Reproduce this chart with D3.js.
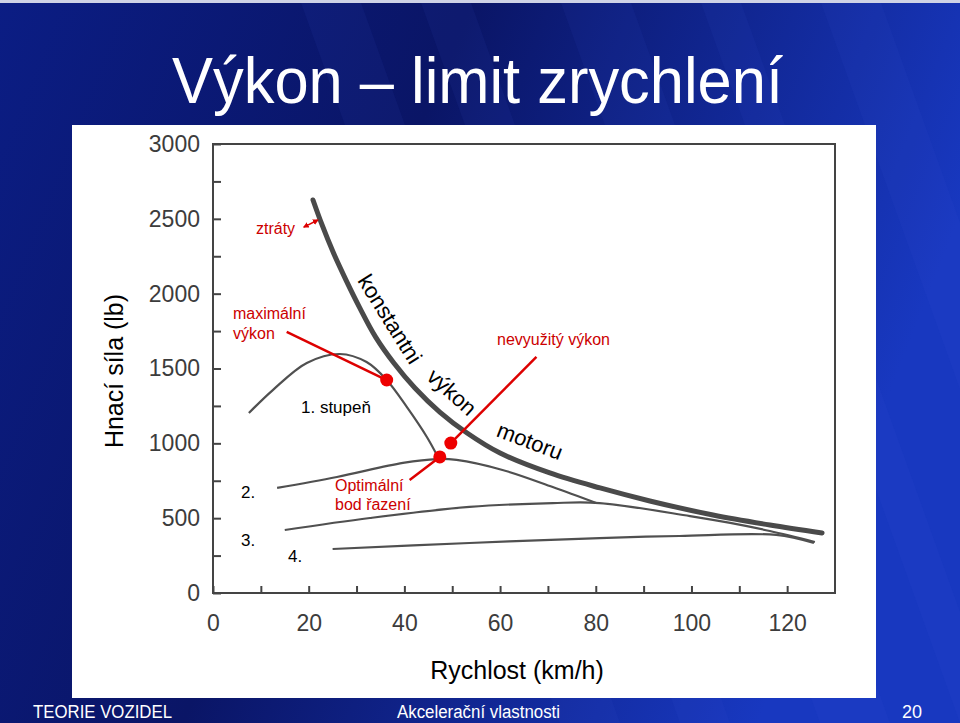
<!DOCTYPE html>
<html>
<head>
<meta charset="utf-8">
<style>
  body { margin: 0; background: #0a1670; }
  svg { display: block; font-family: "Liberation Sans", Arial, sans-serif; }
  .frame { fill: none; stroke: #444; stroke-width: 2; }
  .axis path { display: none; }
  .axis line { stroke: #444; stroke-width: 2; }
  .axis text { fill: #3c3c3c; font-size: 23px; font-family: "Liberation Sans", Arial, sans-serif; }
  .power { fill: none; stroke: #4a4a4a; stroke-width: 5; stroke-linecap: round; }
  .gear { fill: none; stroke: #505050; stroke-width: 2.2; }
  .note { fill: #cc0000; font-size: 16px; }
  .lab { fill: #000; font-size: 17px; }
  .curvelab { fill: #000; font-size: 22px; }
</style>
</head>
<body>
<div id="slide"></div>
<script src="https://cdn.jsdelivr.net/npm/d3@7"></script>
<script>

//////////////////// data (speed km/h, force lb) ////////////////////
const powerV = [20.9, 22.8, 25.1, 27.8, 30.7, 34.0, 37.8, 42.2, 47.4, 53.1, 60.0, 70.4, 80.9, 91.3, 104.5, 116.4, 127.3];
const powerF = [2626, 2459, 2278, 2091, 1904, 1710, 1537, 1370, 1209, 1069, 935, 802, 702, 615, 521, 454, 401];

const gear1V = [7.5, 12.5, 19.6, 26.5, 32.1, 36.3, 40.5, 44.7, 47.0];
const gear1F = [1203, 1356, 1537, 1597, 1543, 1423, 1243, 1042, 909];

const gear2V = [13.4, 25.9, 39.7, 46.7, 50.9, 60.5, 71.0, 80.1];
const gear2F = [702, 775, 869, 895, 889, 822, 708, 601];

const gear3V = [15.0, 32.8, 53.6, 71.0, 80.8, 99.7, 108.1, 116.4, 125.8];
const gear3F = [421, 501, 575, 601, 601, 514, 468, 414, 341];

const gear4V = [25.0, 53.6, 80.8, 97.5, 117.7, 125.6];
const gear4F = [294, 334, 367, 381, 388, 334];

const xTickValues = [0, 10, 20, 30, 40, 50, 60, 70, 80, 90, 100, 110, 120];
const xTickLabels = ['0', '', '20', '', '40', '', '60', '', '80', '', '100', '', '120'];
const yTickValues = [0, 250, 500, 750, 1000, 1250, 1500, 1750, 2000, 2250, 2500, 2750, 3000];
const yTickLabels = ['0', '', '500', '', '1000', '', '1500', '', '2000', '', '2500', '', '3000'];

// red markers: [v, F]
const dots = [[36.3, 1423], [49.7, 1002], [47.4, 909]];
// red leader lines: from label end to marker
const leaders = [
    [[15.4, 1744], [36.3, 1423]],
    [[67.6, 1577], [49.7, 1002]],
    [[41.1, 755], [47.4, 909]]
];

//////////////////// page ////////////////////
const W = 960, H = 723;
const svg = d3.select('#slide').append('svg')
    .attr('width', W)
    .attr('height', H);

const defs = svg.append('defs');
const bg = defs.append('linearGradient').attr('id', 'bg')
    .attr('x1', 0).attr('y1', 0).attr('x2', 1).attr('y2', 0.3);
bg.append('stop').attr('offset', 0).attr('stop-color', '#0b1d84');
bg.append('stop').attr('offset', 0.45).attr('stop-color', '#0a1566');
bg.append('stop').attr('offset', 1).attr('stop-color', '#1838c0');

svg.append('rect').attr('width', W).attr('height', H).attr('fill', 'url(#bg)');

// streaks in the background
const streaks = [[300, 60], [420, 50], [560, 70], [700, 40], [820, 60]];
streaks.forEach(s => {
    svg.append('path')
        .attr('d', `M ${s[0]} 0 L ${s[0] + s[1]} 0 L ${s[0] + s[1] + 260} ${H} L ${s[0] + 260} ${H} Z`)
        .attr('fill', '#3a5ad8')
        .attr('opacity', 0.08);
});
svg.append('rect').attr('width', W).attr('height', 3).attr('fill', '#cfd3e6');

// title
svg.append('text')
    .attr('x', 172).attr('y', 103)
    .attr('textLength', 611)
    .attr('lengthAdjust', 'spacingAndGlyphs')
    .attr('fill', '#fff')
    .style('font-size', '64px')
    .text('Výkon – limit zrychlení');

// white panel
svg.append('rect')
    .attr('x', 72).attr('y', 125)
    .attr('width', 804).attr('height', 573)
    .attr('fill', '#fff');

// footer
const foot = svg.append('g').attr('fill', '#fff').style('font-size', '18px');
foot.append('text').attr('x', 33).attr('y', 718).attr('textLength', 139)
    .attr('lengthAdjust', 'spacingAndGlyphs').text('TEORIE VOZIDEL');
foot.append('text').attr('x', 397).attr('y', 718).attr('textLength', 163)
    .attr('lengthAdjust', 'spacingAndGlyphs').text('Akcelerační vlastnosti');
foot.append('text').attr('x', 922).attr('y', 718).attr('text-anchor', 'end').text('20');

//////////////////// chart ////////////////////
const x = d3.scaleLinear().domain([0, 130]).range([213, 835]);
const y = d3.scaleLinear().domain([0, 3000]).range([593, 144]);

const chart = svg.append('g');

chart.append('g')
    .attr('class', 'axis')
    .attr('transform', 'translate(0, 593)')
    .call(d3.axisBottom(x)
        .tickValues(xTickValues)
        .tickFormat((d, i) => xTickLabels[i])
        .tickSizeInner(-7)
        .tickSizeOuter(0)
        .tickPadding(22));

chart.append('g')
    .attr('class', 'axis')
    .attr('transform', 'translate(213, 0)')
    .call(d3.axisLeft(y)
        .tickValues(yTickValues)
        .tickFormat((d, i) => yTickLabels[i])
        .tickSizeInner(-8)
        .tickSizeOuter(0)
        .tickPadding(13));

chart.append('rect')
    .attr('class', 'frame')
    .attr('x', x(0)).attr('y', y(3000))
    .attr('width', x(130) - x(0))
    .attr('height', y(0) - y(3000));

const line = d3.line()
    .x(d => x(d[0]))
    .y(d => y(d[1]))
    .curve(d3.curveCatmullRom.alpha(0.5));

const zip = (vs, fs) => vs.map((v, i) => [v, fs[i]]);

[[gear1V, gear1F], [gear2V, gear2F], [gear3V, gear3F], [gear4V, gear4F]].forEach(g => {
    chart.append('path').attr('class', 'gear').attr('d', line(zip(g[0], g[1])));
});
chart.append('path').attr('class', 'power').attr('d', line(zip(powerV, powerF)));

// red leaders and markers
leaders.forEach(l => {
    chart.append('line')
        .attr('x1', x(l[0][0])).attr('y1', y(l[0][1]))
        .attr('x2', x(l[1][0])).attr('y2', y(l[1][1]))
        .attr('stroke', '#dd0000').attr('stroke-width', 2.5);
});
dots.forEach(d => {
    chart.append('circle')
        .attr('cx', x(d[0])).attr('cy', y(d[1]))
        .attr('r', 6.5).attr('fill', '#ee0000');
});

// small double arrow "ztráty"
defs.append('marker').attr('id', 'ah')
    .attr('viewBox', '0 0 10 10').attr('refX', 8).attr('refY', 5)
    .attr('markerWidth', 4).attr('markerHeight', 4).attr('orient', 'auto-start-reverse')
    .append('path').attr('d', 'M 0 0 L 10 5 L 0 10 Z').attr('fill', '#dd0000');
chart.append('line')
    .attr('x1', x(19.0)).attr('y1', y(2445))
    .attr('x2', x(21.9)).attr('y2', y(2492))
    .attr('stroke', '#dd0000').attr('stroke-width', 1.5)
    .attr('marker-start', 'url(#ah)').attr('marker-end', 'url(#ah)');

// annotations
chart.append('text').attr('class', 'note').attr('x', 256).attr('y', 234).text('ztráty');
chart.append('text').attr('class', 'note').attr('x', 233).attr('y', 319).text('maximální');
chart.append('text').attr('class', 'note').attr('x', 233).attr('y', 339).text('výkon');
chart.append('text').attr('class', 'note').attr('x', 497).attr('y', 345).text('nevyužitý výkon');
chart.append('text').attr('class', 'note').attr('x', 335).attr('y', 491).text('Optimální');
chart.append('text').attr('class', 'note').attr('x', 335).attr('y', 510).text('bod řazení');

chart.append('text').attr('class', 'lab').attr('x', 301).attr('y', 413).text('1. stupeň');
chart.append('text').attr('class', 'lab').attr('x', 241).attr('y', 498).text('2.');
chart.append('text').attr('class', 'lab').attr('x', 241).attr('y', 546).text('3.');
chart.append('text').attr('class', 'lab').attr('x', 288).attr('y', 562).text('4.');

const curveLabels = [['konstantni', 390, 319, 58], ['výkon', 452, 392, 42], ['motoru', 530, 441, 21]];
curveLabels.forEach(c => {
    chart.append('text').attr('class', 'curvelab')
        .attr('transform', `translate(${c[1]}, ${c[2]}) rotate(${c[3]})`)
        .attr('text-anchor', 'middle')
        .attr('dy', '0.35em')
        .text(c[0]);
});

// axis titles
chart.append('text')
    .attr('transform', 'translate(114, 371) rotate(-90)')
    .attr('text-anchor', 'middle').attr('dy', '0.35em')
    .style('font-size', '25px')
    .text('Hnací síla (lb)');
chart.append('text')
    .attr('x', 517).attr('y', 679)
    .attr('text-anchor', 'middle')
    .style('font-size', '25px')
    .text('Rychlost (km/h)');

</script>
</body>
</html>
